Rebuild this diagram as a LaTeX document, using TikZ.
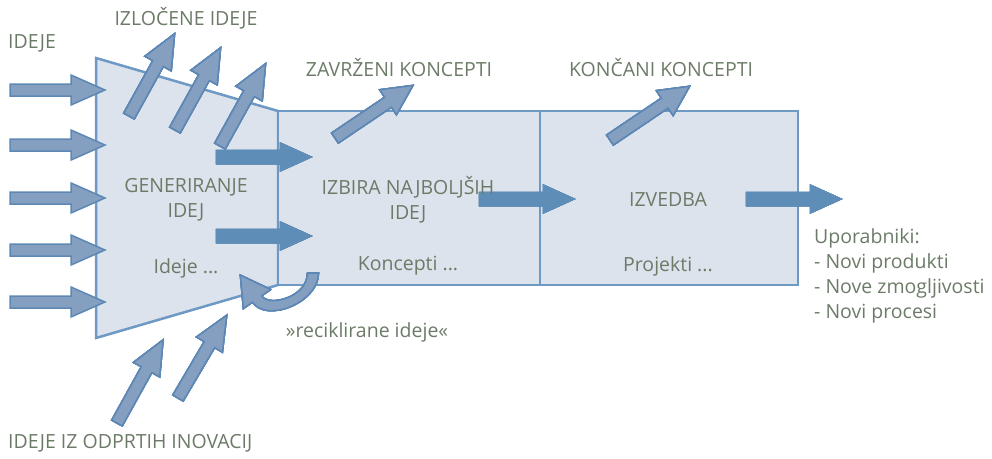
\documentclass[tikz,border=0pt]{standalone}
\usepackage{fontspec}
\setmainfont{Open Sans}
\usetikzlibrary{calc}

\definecolor{boxfill}{HTML}{DCE3EC}
\definecolor{boxline}{HTML}{6D99C4}
\definecolor{arrfill}{HTML}{849FC0}
\definecolor{arrline}{HTML}{5D88B6}
\definecolor{arrdark}{HTML}{5E8DB8}
\definecolor{txt}{HTML}{6C7B68}

% block arrow: style, tail, angle, length, half shaft, half head, head length
\newcommand{\blkarrow}[7]{%
  \draw[#1,shift={(#2)},rotate=#3] (0,-#5) -- (#4-#7,-#5) -- (#4-#7,-#6) -- (#4,0)
    -- (#4-#7,#6) -- (#4-#7,#5) -- (0,#5) -- cycle;}

\tikzset{
  stage/.style={fill=boxfill,draw=boxline,line width=2.5pt,line join=miter},
  thinarrow/.style={fill=arrfill,draw=arrline,line width=1.5pt,line join=miter},
  thickarrow/.style={fill=arrdark,draw=arrdark,line width=0.5pt},
  lbl/.style={text=txt,font=\fontsize{19.5}{25}\selectfont,inner sep=0pt}
}

\begin{document}
\begin{tikzpicture}[x=1pt,y=1pt]
  \useasboundingbox (0,0) rectangle (992,-458);
  % stages
  \draw[stage] (96,-58) -- (278,-111) -- (278,-285) -- (96,-338) -- cycle;
  \draw[stage] (278,-111) rectangle (540,-285);
  \draw[stage] (540,-111) rectangle (798,-285);
  % ideas coming in
  \foreach \y in {90,145,198,250,302}
    \blkarrow{thinarrow}{10,-\y}{0}{95}{6}{15}{34}
  % rejected ideas
  \blkarrow{thinarrow}{129,-116}{61}{94}{6}{15}{34}
  \blkarrow{thinarrow}{175,-130}{61}{94}{6}{15}{34}
  \blkarrow{thinarrow}{220,-146}{61}{94}{6}{15}{34}
  % open innovation
  \blkarrow{thinarrow}{117,-423}{61}{95}{6}{15}{34}
  \blkarrow{thinarrow}{178,-398}{59.5}{96}{6}{15}{34}
  % discarded / finished concepts
  \blkarrow{thinarrow}{335,-138}{34}{94}{6}{15}{30}
  \blkarrow{thinarrow}{610,-140}{34}{96}{6}{15}{30}
  % main flow
  \blkarrow{thickarrow}{216,-157}{0}{96}{7}{14.5}{32}
  \blkarrow{thickarrow}{216,-236}{0}{96}{7}{14.5}{32}
  \blkarrow{thickarrow}{479,-199}{0}{96}{7}{14.5}{32}
  \blkarrow{thickarrow}{746,-199}{0}{96}{7}{14.5}{32}
  % recycled ideas
  \draw[thinarrow] (307.5,-273) -- (318.5,-273)
    .. controls (318.5,-303) and (266,-323) .. (252.5,-302.1)
    -- (243.4,-308.5) -- (240.4,-275.2) -- (270.6,-289.5) -- (261.5,-295.9)
    .. controls (269.5,-307.4) and (307.5,-297) .. (307.5,-273) -- cycle;
  % labels
  \node[lbl,anchor=west] (ideje) at (8,-43) {IDEJE};
  \node[lbl] (izlocene) at (186,-18) {IZLOČENE IDEJE};
  \node[lbl] (zavrzeni) at (399,-68) {ZAVRŽENI KONCEPTI};
  \node[lbl] (koncani) at (661,-68) {KONČANI KONCEPTI};
  \node[lbl,align=center] (gen) at (186,-199.5) {GENERIRANJE\\IDEJ};
  \node[lbl] (gen2) at (186,-268) {Ideje ...};
  \node[lbl,align=center] (izbira) at (408,-199.5) {IZBIRA NAJBOLJŠIH\\IDEJ};
  \node[lbl] (izbira2) at (408,-266) {Koncepti ...};
  \node[lbl] (izvedba) at (668,-200) {IZVEDBA};
  \node[lbl] (izvedba2) at (668,-266) {Projekti ...};
  \node[lbl] (recikl) at (367,-332) {»reciklirane ideje«};
  \node[lbl,align=left,anchor=west] (upor) at (814,-275.5)
    {Uporabniki:\\- Novi produkti\\- Nove zmogljivosti\\- Novi procesi};
  \node[lbl,anchor=west] (odprte) at (8,-443) {IDEJE IZ ODPRTIH INOVACIJ};
\end{tikzpicture}
\end{document}
